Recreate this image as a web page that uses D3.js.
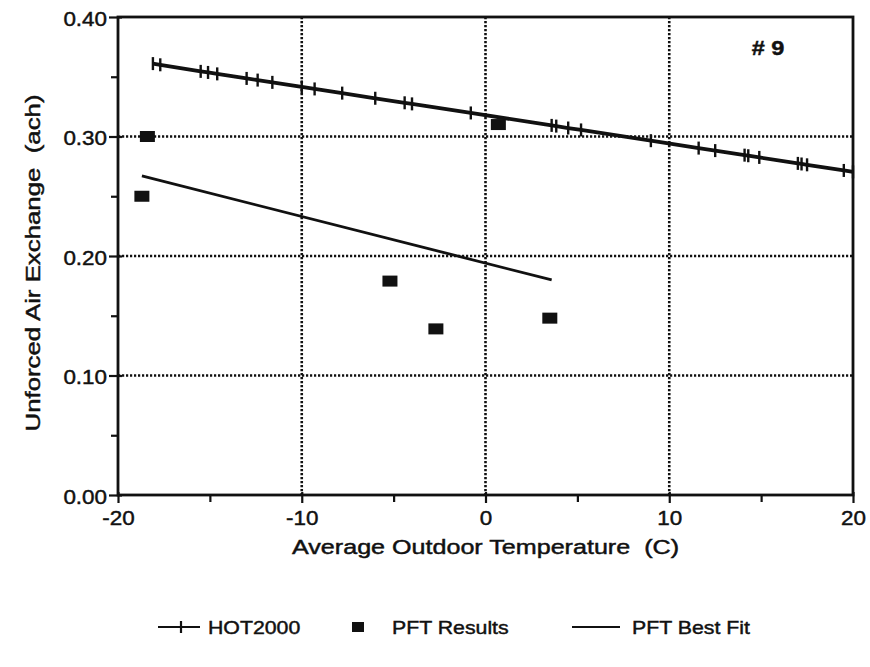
<!DOCTYPE html>
<html><head><meta charset="utf-8">
<script src="https://cdn.jsdelivr.net/npm/d3@7"></script>
<style>
body{margin:0;background:#fff}
text{font-family:"Liberation Sans",Arial,Helvetica,sans-serif;fill:#111;stroke:#111;stroke-width:0.45px;white-space:pre}
</style>
</head><body>
<svg id="c" width="870" height="667"></svg>
<script>
// ---- data ----
const hotTemps  = [-18.1,-17.7,-15.5,-15.1,-14.6,-13.0,-12.4,-11.6,-10.0,-9.3,-7.8,-6.0,-4.4,-4.0,-0.8,3.6,3.85,4.5,5.2,9.0,11.6,12.5,14.1,14.3,14.9,17.0,17.2,17.5,19.5,20.0];
const hotValues = [0.361,0.360,0.3545,0.3536,0.3524,0.3486,0.3472,0.3453,0.3415,0.3398,0.3363,0.3320,0.3282,0.3273,0.3197,0.3093,0.3087,0.3071,0.3055,0.2965,0.2903,0.2882,0.2844,0.2839,0.2825,0.2775,0.2770,0.2763,0.2716,0.2704];
const pftTemps  = [-18.4,-18.7,-5.2,-2.7,0.7,3.5];
const pftValues = [0.300,0.250,0.179,0.139,0.310,0.148];
const fitTemps  = [-18.7,3.6];
const fitValues = [0.267,0.180];
const xTicks = [-20,-10,0,10,20];
const xTickLabels = ["-20","-10","0","10","20"];
const xMinor = [-15,-5,5,15];
const yTicks = [0,0.1,0.2,0.3,0.4];
const yTickLabels = ["0.00","0.10","0.20","0.30","0.40"];
const yMinor = [0.05,0.15,0.25,0.35];
const gridX = [-10,0,10];
const gridY = [0.1,0.2,0.3];
const xTitle = "Average Outdoor Temperature  (C)";
const yTitle = "Unforced Air Exchange  (ach)";
const houseLabel = "# 9";
const legendLabels = ["HOT2000","PFT Results","PFT Best Fit"];

// ---- layout ----
const L=118, R=853, T=17, B=495;
const svg = d3.select("#c");
const x = d3.scaleLinear().domain([-20,20]).range([L,R]);
const y = d3.scaleLinear().domain([0,0.4]).range([B,T]);
const ink = "#111";

// grid
svg.append("g").selectAll("line").data(gridX).join("line")
  .attr("x1",d=>x(d)).attr("x2",d=>x(d)).attr("y1",T).attr("y2",B)
  .attr("stroke",ink).attr("stroke-width",2.6).attr("stroke-dasharray","2.2,1.8");
svg.append("g").selectAll("line").data(gridY).join("line")
  .attr("x1",L).attr("x2",R).attr("y1",d=>y(d)).attr("y2",d=>y(d))
  .attr("stroke",ink).attr("stroke-width",2.6).attr("stroke-dasharray","2.2,1.8");

// axes
const gy = svg.append("g").attr("transform",`translate(${L},0)`)
  .call(d3.axisLeft(y).tickValues(yTicks).tickFormat((d,i)=>yTickLabels[i]).tickSize(9).tickPadding(2));
gy.select(".domain").remove();
gy.selectAll(".tick line").attr("stroke",ink).attr("stroke-width",2.2).attr("x2",-9).attr("x1",4);
gy.selectAll(".tick text").attr("font-size",20).attr("dy","0.40em").attr("fill",ink).classed("s",true);
svg.append("g").attr("transform",`translate(${L},0)`)
  .call(d3.axisLeft(y).tickValues(yMinor).tickFormat("").tickSize(7))
  .call(g=>g.select(".domain").remove())
  .selectAll(".tick line").attr("stroke",ink).attr("stroke-width",2.2);

const gx = svg.append("g").attr("transform",`translate(0,${B})`)
  .call(d3.axisBottom(x).tickValues(xTicks).tickFormat((d,i)=>xTickLabels[i]).tickSize(8).tickPadding(7.5));
gx.select(".domain").remove();
gx.selectAll(".tick line").attr("stroke",ink).attr("stroke-width",2.2).attr("y1",-3);
gx.selectAll(".tick text").attr("font-size",20).attr("fill",ink).classed("s",true);
svg.append("g").attr("transform",`translate(0,${B})`)
  .call(d3.axisBottom(x).tickValues(xMinor).tickFormat("").tickSize(7))
  .call(g=>g.select(".domain").remove())
  .selectAll(".tick line").attr("stroke",ink).attr("stroke-width",2.2);

// frame
svg.append("rect").attr("x",L).attr("y",T).attr("width",R-L).attr("height",B-T)
  .attr("fill","none").attr("stroke",ink).attr("stroke-width",2.8);

// HOT2000 line + markers
const line = d3.line().x(d=>x(d[0])).y(d=>y(d[1]));
const hot = hotTemps.map((t,i)=>[t,hotValues[i]]);
svg.append("path").datum(hot).attr("d",line).attr("fill","none").attr("stroke",ink).attr("stroke-width",3.8);
svg.append("g").selectAll("line").data(hot).join("line")
  .attr("x1",d=>x(d[0])).attr("x2",d=>x(d[0])).attr("y1",d=>y(d[1])-6.5).attr("y2",d=>y(d[1])+6.5)
  .attr("stroke",ink).attr("stroke-width",2.4);

// PFT best fit
const fit = fitTemps.map((t,i)=>[t,fitValues[i]]);
svg.append("path").datum(fit).attr("d",line).attr("fill","none").attr("stroke",ink).attr("stroke-width",2.8);

// PFT results squares
const pft = pftTemps.map((t,i)=>[t,pftValues[i]]);
svg.append("g").selectAll("rect").data(pft).join("rect")
  .attr("x",d=>x(d[0])-7.5).attr("y",d=>y(d[1])-5.5).attr("width",15).attr("height",11).attr("fill",ink);

// label # 9
svg.append("text").attr("x",768).attr("y",55).attr("text-anchor","middle").attr("font-size",21)
  .attr("font-weight","bold").text(houseLabel).classed("s",true);

// titles
svg.append("text").attr("x",(L+R)/2).attr("y",554).attr("text-anchor","middle").attr("font-size",20)
  .text(xTitle).attr("data-w",387);
svg.append("text").attr("transform","translate(40,263) rotate(-90)").attr("text-anchor","middle").attr("font-size",20)
  .text(yTitle).attr("data-w",337);

// legend
const ly = 627;
const lg = svg.append("g");
lg.append("line").attr("x1",158).attr("x2",200).attr("y1",ly).attr("y2",ly).attr("stroke",ink).attr("stroke-width",2.2);
lg.append("line").attr("x1",181).attr("x2",181).attr("y1",ly-6).attr("y2",ly+6).attr("stroke",ink).attr("stroke-width",2.2);
lg.append("text").attr("x",208).attr("y",ly+7).attr("font-size",19).text(legendLabels[0]).classed("s",true);
lg.append("rect").attr("x",352).attr("y",ly-5).attr("width",12).attr("height",10).attr("fill",ink);
lg.append("text").attr("x",392).attr("y",ly+7).attr("font-size",19).text(legendLabels[1]).classed("s",true);
lg.append("line").attr("x1",572).attr("x2",620).attr("y1",ly).attr("y2",ly).attr("stroke",ink).attr("stroke-width",2.2);
lg.append("text").attr("x",632).attr("y",ly+7).attr("font-size",19).text(legendLabels[2]).classed("s",true);

// horizontal stretch to mimic the scanned typeface
svg.selectAll("text").each(function(){
  const el = d3.select(this);
  const w = this.getComputedTextLength();
  const target = el.attr("data-w") ? +el.attr("data-w") : w*1.12;
  el.attr("textLength",target).attr("lengthAdjust","spacingAndGlyphs");
});
</script>
</body></html>
